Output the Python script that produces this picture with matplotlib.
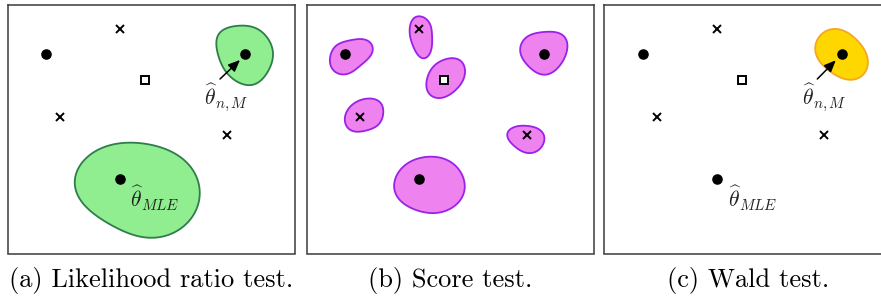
import numpy as np
import matplotlib
matplotlib.use("Agg")
import matplotlib.pyplot as plt

plt.rcParams['mathtext.fontset'] = 'cm'
plt.rcParams['axes.unicode_minus'] = False

# ---- data (panel-local coordinates, x right, y down) ----
dots_x = [38.2, 237.5, 112.5]
dots_y = [49.8, 49.8, 174.5]
cross_x = [112.5, 52.8, 219.8]
cross_y = [24.8, 112.8, 130.5]
square_x = [137.5]
square_y = [75.5]

captions = ["(a) Likelihood ratio test.", "(b) Score test.", "(c) Wald test."]

# region outlines (control points)
lr_big = [(66.5, 177.5), (79.5, 152.5), (105.5, 140.5), (132.5, 138.5), (165.5, 148.5),
          (187.5, 168.5), (192.5, 188.5), (182.5, 215.5), (152.5, 232.5), (125.5, 230.5),
          (92.5, 212.5), (70.5, 192.5)]
lr_small = [(210.5, 28.5), (225.5, 22.5), (245.5, 22.5), (264.5, 42.5), (262.5, 62.5),
            (245.5, 80.5), (232.5, 78.5), (215.5, 62.5), (209.5, 38.5)]
score_blobs = [
    [(23.3, 53.5), (30.3, 40.5), (46.3, 35.5), (63.3, 37.5), (66.3, 45.5), (56.3, 58.5),
     (40.3, 69.5), (28.3, 67.5)],
    [(103.3, 22.5), (108.3, 12.5), (116.3, 12.5), (124.3, 22.5), (125.3, 35.5), (120.3, 52.5),
     (115.3, 54.5), (110.3, 48.5), (104.3, 35.5)],
    [(120.3, 75.5), (126.3, 62.5), (140.3, 54.5), (153.3, 55.5), (158.3, 65.5), (153.3, 80.5),
     (140.3, 91.5), (126.3, 92.5), (120.3, 85.5)],
    [(213.3, 42.5), (220.3, 32.5), (240.3, 27.5), (258.3, 32.5), (260.3, 45.5), (253.3, 60.5),
     (238.3, 70.5), (226.3, 65.5), (215.3, 52.5)],
    [(38.3, 117.5), (43.3, 102.5), (58.3, 94.5), (73.3, 97.5), (76.3, 110.5), (71.3, 120.5),
     (56.3, 126.5), (43.3, 125.5)],
    [(200.3, 128.5), (208.3, 122.5), (226.3, 122.5), (236.3, 128.5), (237.3, 137.5),
     (230.3, 146.5), (220.3, 148.5), (210.3, 143.5), (202.3, 135.5)],
    [(87.3, 180.5), (96.3, 162.5), (120.3, 152.5), (140.3, 155.5), (156.3, 172.5),
     (157.3, 188.5), (146.3, 202.5), (123.3, 208.5), (103.3, 202.5), (90.3, 192.5)],
]
wald_blob = [(210.7, 42.5), (216.7, 30.5), (226.7, 24.5), (241.7, 27.5), (256.7, 40.5),
             (263.7, 57.5), (258.7, 70.5), (246.7, 75.5), (231.7, 70.5), (216.7, 58.5)]

label_nm = r'$\widehat{\theta}_{n,M}$'
label_mle = r'$\widehat{\theta}_{MLE}$'


def _basis(t, K):
    cols = [np.ones_like(t)]
    for k in range(1, K + 1):
        cols += [np.cos(k * t), np.sin(k * t)]
    return np.stack(cols, axis=1)


def smooth_outline(pts, K=4, lam=0.012, n_out=400):
    """Penalised parametric Fourier fit of a closed outline (smooths the read points)."""
    P = np.asarray(pts, float)
    seg = np.hypot(*np.diff(np.vstack([P, P[:1]]), axis=0).T)
    t = np.concatenate([[0], np.cumsum(seg)[:-1]]) / seg.sum() * 2 * np.pi
    A = _basis(t, K)
    pen = np.array([0.0] + [float(k ** 4) for k in range(1, K + 1) for _ in (0, 1)])
    pen[1:3] = 0.0
    R = np.diag(pen) * lam
    coef = np.linalg.solve(A.T @ A + R, A.T @ P)
    tt = np.linspace(0, 2 * np.pi, n_out, endpoint=False)
    out = _basis(tt, K) @ coef
    return out[:, 0], out[:, 1]


def add_blob(ax, pts, fc, ec):
    x, y = smooth_outline(pts)
    ax.fill(x, y, facecolor=fc, edgecolor=ec, lw=1.3, zorder=1)


def draw_points(ax):
    ax.plot(dots_x, dots_y, 'o', color='black', ms=6.6, zorder=3)
    ax.plot(cross_x, cross_y, 'x', color='black', ms=6.0, mew=1.4, zorder=3)
    ax.plot(square_x, square_y, 's', mfc='white', mec='black', ms=5.6, mew=1.4, zorder=3)


def add_arrow(ax, head, tail):
    ax.annotate('', xy=head, xytext=tail,
                arrowprops=dict(arrowstyle='-|>,head_length=0.7,head_width=0.3',
                                color='black', lw=1.1, shrinkA=0, shrinkB=0), zorder=4)


W, H = 881, 299
fig = plt.figure(figsize=(W / 100, H / 100), dpi=100)

lefts = [7.5, 306.7, 604.3]
pw, ph = 287.0, 249.0
top = 4.5
axes = []
for L in lefts:
    ax = fig.add_axes([L / W, 1 - (top + ph) / H, pw / W, ph / H])
    ax.set_xlim(0, pw)
    ax.set_ylim(ph, 0)
    ax.set_xticks([])
    ax.set_yticks([])
    for s in ax.spines.values():
        s.set_color('#3a3a3a')
        s.set_linewidth(1.1)
    axes.append(ax)

green_fc, green_ec = '#90ee90', '#2e7d4a'
mag_fc, mag_ec = '#ee82ee', '#9b22e8'
gold_fc, gold_ec = '#ffd700', '#f5a623'
txt_c = '#222222'

# (a) likelihood ratio
ax = axes[0]
add_blob(ax, lr_big, green_fc, green_ec)
add_blob(ax, lr_small, green_fc, green_ec)
draw_points(ax)
add_arrow(ax, (232.5, 55.5), (212.5, 74.5))
ax.text(218.5, 93, label_nm, fontsize=15.5, ha='center', va='center', color=txt_c)
ax.text(123, 194, label_mle, fontsize=15.5, ha='left', va='center', color=txt_c)

# (b) score
ax = axes[1]
for b in score_blobs:
    add_blob(ax, b, mag_fc, mag_ec)
draw_points(ax)

# (c) wald
ax = axes[2]
add_blob(ax, wald_blob, gold_fc, gold_ec)
draw_points(ax)
add_arrow(ax, (231.5, 55.8), (213.0, 74.5))
ax.text(219.7, 93, label_nm, fontsize=15.5, ha='center', va='center', color=txt_c)
ax.text(123.4, 194, label_mle, fontsize=15.5, ha='left', va='center', color=txt_c)

# captions
for L, cap in zip(lefts, captions):
    fig.text((L + pw / 2) / W, 1 - 281 / H, cap, family='cmr10', fontsize=19,
             ha='center', va='center', color='black')

fig.savefig('out.png', dpi=100)
